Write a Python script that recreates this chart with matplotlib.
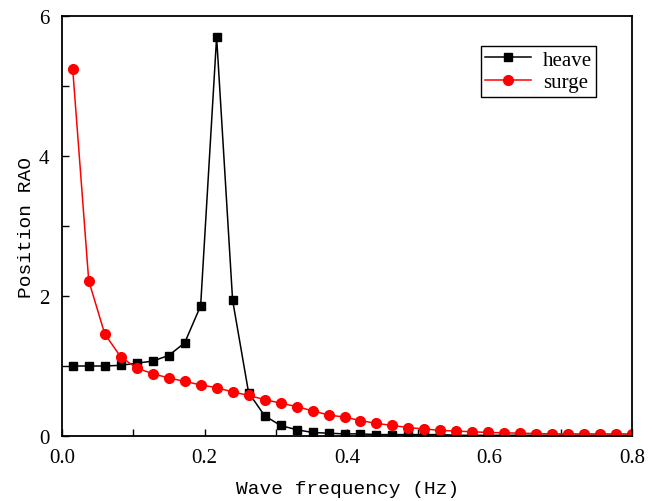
import numpy as np
import matplotlib.pyplot as plt
from matplotlib.ticker import MultipleLocator, FormatStrFormatter

# frequency grid (Hz)
freq = np.linspace(0.015, 0.8, 36)

heave = [1.00, 1.00, 1.00, 1.01, 1.04, 1.07, 1.15, 1.33, 1.86, 5.70,
         1.94, 0.62, 0.29, 0.15, 0.09, 0.05, 0.04, 0.03, 0.03, 0.02,
         0.02, 0.02, 0.02, 0.02, 0.01, 0.01, 0.01, 0.01, 0.01, 0.01,
         0.01, 0.01, 0.01, 0.01, 0.01, 0.01]
surge = [5.24, 2.22, 1.46, 1.13, 0.97, 0.89, 0.83, 0.78, 0.73, 0.69,
         0.63, 0.58, 0.52, 0.47, 0.42, 0.36, 0.30, 0.27, 0.22, 0.18,
         0.15, 0.12, 0.10, 0.08, 0.07, 0.06, 0.05, 0.045, 0.04, 0.035,
         0.03, 0.03, 0.03, 0.03, 0.03, 0.03]

plt.rcParams['font.family'] = ['Liberation Serif', 'DejaVu Serif']

fig = plt.figure(figsize=(6.6, 5.02), dpi=100)
ax = fig.add_axes([0.094, 0.1295, 0.864, 0.8365])

ax.plot(freq, heave, color='black', marker='s', markersize=6, lw=1.1, label='heave')
ax.plot(freq, surge, color='red', marker='o', markersize=7, lw=1.1, label='surge')

ax.set_xlim(0, 0.8)
ax.set_ylim(0, 6)
ax.xaxis.set_major_locator(MultipleLocator(0.2))
ax.xaxis.set_minor_locator(MultipleLocator(0.1))
ax.xaxis.set_major_formatter(FormatStrFormatter('%.1f'))
ax.yaxis.set_major_locator(MultipleLocator(2))
ax.yaxis.set_minor_locator(MultipleLocator(1))
ax.tick_params(which='both', direction='in', length=5, width=1, labelsize=15,
               top=False, right=False)
ax.tick_params(axis='x', pad=9)
ax.tick_params(axis='y', pad=9)
for s in ax.spines.values():
    s.set_linewidth(1.3)

mono = ['Liberation Mono', 'DejaVu Sans Mono']
ax.set_xlabel('Wave frequency (Hz)', fontsize=14, family=mono, labelpad=9)
ax.set_ylabel('Position RAO', fontsize=14, family=mono, labelpad=3)

leg = ax.legend(loc='upper right', bbox_to_anchor=(0.937, 0.929), fontsize=15,
                fancybox=False, edgecolor='black', framealpha=1,
                handlelength=2.2, borderpad=0.2, labelspacing=0.15,
                handletextpad=0.6, borderaxespad=0)
leg.get_frame().set_linewidth(1)

fig.savefig('out.png', dpi=100)
